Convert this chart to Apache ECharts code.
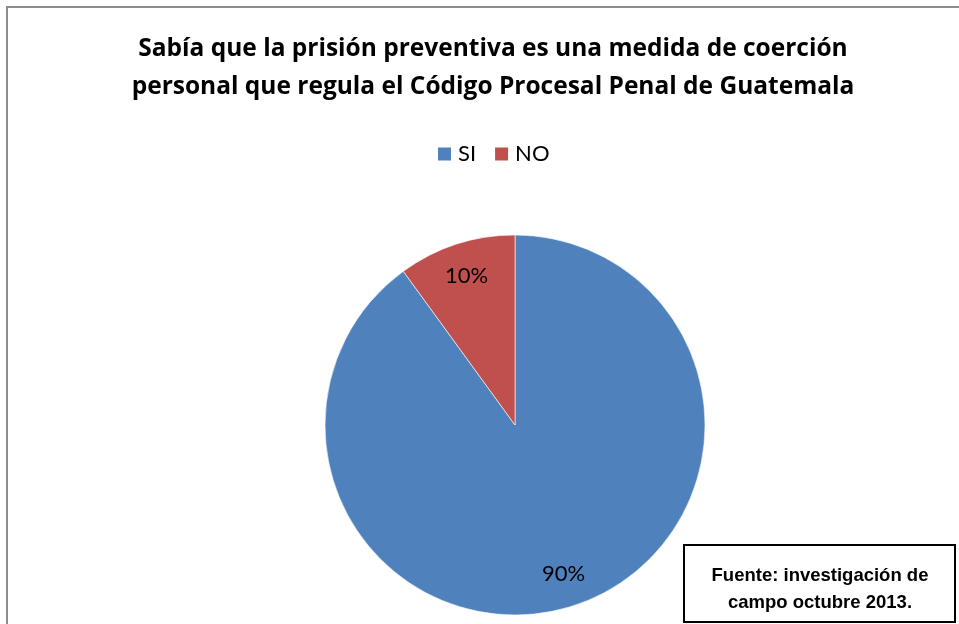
<!DOCTYPE html>
<html>
<head>
<meta charset="utf-8">
<script src="https://cdn.jsdelivr.net/npm/echarts@6/dist/echarts.min.js"></script>
<style>
  html, body { margin: 0; padding: 0; background: #fff; }
  #chart { width: 959px; height: 624px; }
</style>
</head>
<body>
<div id="chart"></div>
<script>
// Respuestas de la encuesta
const categories = ['SI', 'NO'];
const values = [90, 10];
const colors = ['#4F81BD', '#C0504D'];
const titleText = 'Sabía que la prisión preventiva es una medida de coerción\npersonal que regula el Código Procesal Penal de Guatemala';
const sourceText = 'Fuente: investigación de\ncampo octubre 2013.';

const pieData = categories.map((name, i) => ({ name, value: values[i] }));

const chart = echarts.init(document.getElementById('chart'), null, { renderer: 'canvas' });

chart.setOption({
  animation: false,
  backgroundColor: '#fff',
  color: colors,
  title: {
    text: titleText,
    left: 488,
    top: 25,
    padding: 5,
    textAlign: 'center',
    textStyle: {
      fontFamily: 'Open Sans',
      fontWeight: 'bold',
      fontSize: 24.5,
      lineHeight: 38,
      color: '#000'
    }
  },
  legend: {
    data: categories,
    left: 436,
    top: 143,
    padding: 0,
    itemWidth: 15,
    itemHeight: 15,
    itemGap: 17,
    icon: 'rect',
    textStyle: { fontFamily: 'Lato', fontSize: 22, color: '#000', padding: [0, 0, 0, 1] }
  },
  series: [
    {
      type: 'pie',
      center: [515, 425],
      radius: [0, 190],
      startAngle: 90,
      clockwise: true,
      data: pieData,
      itemStyle: { borderColor: '#fff', borderWidth: 0.6 },
      label: { show: false },
      labelLine: { show: false },
      emphasis: { disabled: true }
    },
    {
      // capa transparente que sólo coloca las etiquetas de porcentaje
      type: 'pie',
      center: [515, 425],
      radius: [118, 190],
      startAngle: 90,
      clockwise: true,
      silent: true,
      data: pieData,
      itemStyle: { color: 'rgba(0,0,0,0)' },
      label: {
        show: true,
        position: 'inside',
        formatter: '{d}%',
        fontFamily: 'Lato',
        fontSize: 22,
        color: '#000'
      },
      labelLine: { show: false },
      emphasis: { disabled: true }
    }
  ],
  graphic: [
    {
      type: 'rect',
      shape: { x: 7, y: 7, width: 1000, height: 700 },
      style: { fill: 'none', stroke: '#8c8c8c', lineWidth: 2 },
      silent: true
    },
    {
      type: 'rect',
      shape: { x: 684, y: 545, width: 271, height: 77 },
      style: { fill: '#fff', stroke: '#000', lineWidth: 2 },
      z: 10
    },
    {
      type: 'text',
      x: 820,
      y: 589,
      z: 11,
      style: {
        text: sourceText,
        fill: '#000',
        font: 'bold 18.5px "Liberation Sans", Arial, sans-serif',
        lineHeight: 27,
        align: 'center',
        verticalAlign: 'middle'
      }
    }
  ]
});
</script>
</body>
</html>
